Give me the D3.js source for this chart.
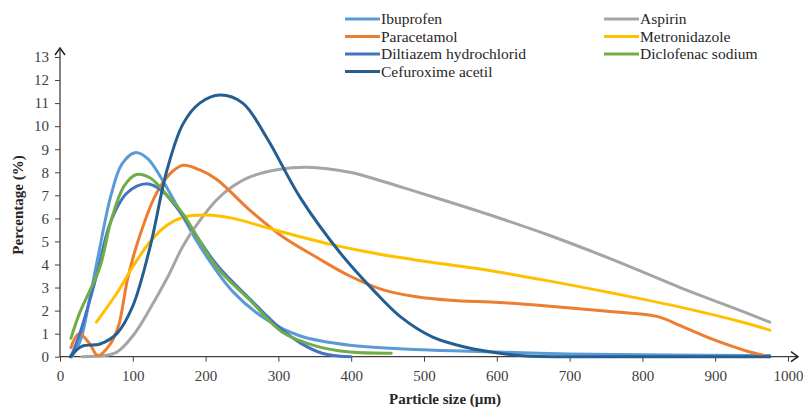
<!DOCTYPE html>
<html>
<head>
<meta charset="utf-8">
<script src="https://cdn.jsdelivr.net/npm/d3@7"></script>
<style>
	body { margin: 0; background: #fff; }
	svg { display: block; }
	svg text { font-family: "Liberation Serif", "DejaVu Serif", serif; }
	.tick-label { font-size: 15px; fill: #404040; }
	.title { font-size: 15px; font-weight: bold; fill: #262626; }
	.legend text { font-size: 15.5px; fill: #262626; }
	.series { fill: none; stroke-width: 3; stroke-linejoin: round; stroke-linecap: round; }
</style>
</head>
<body>
<div id="chart"></div>
<script>

// series names, legend order (row by row)
var seriesNames = ["Ibuprofen", "Aspirin", "Paracetamol", "Metronidazole",
	"Diltiazem hydrochlorid", "Diclofenac sodium", "Cefuroxime acetil"];

// [particle size (µm), percentage (%)]
var ibuprofen = [[16,0],[28,0.7],[40,2.4],[52,4.3],[70,7.0],[85,8.35],[103,8.85],[120,8.6],
	[140,7.7],[165,6.3],[192,4.8],[238,2.8],[284,1.6],[330,0.9],[398,0.5],[500,0.3],[604,0.2],[700,0.12],
	[800,0.08],[975,0.05]];
var aspirin = [[30,0],[60,0.05],[78,0.2],[100,0.9],[124,2.1],[147,3.4],[169,4.8],[192,5.9],[215,6.8],
	[238,7.4],[261,7.8],[300,8.12],[340,8.22],[398,8.0],[444,7.6],[490,7.15],[536,6.7],[600,6.05],
	[669,5.3],[760,4.2],[852,3.0],[943,1.9],[975,1.5]];
var paracetamol = [[15,0.4],[26,1.0],[40,0.6],[52,0.05],[68,0.5],[80,1.3],[93,3.4],[107,5.0],[131,7.0],
	[150,7.9],[169,8.3],[192,8.1],[215,7.7],[261,6.35],[306,5.2],[353,4.3],[398,3.5],[444,2.9],[490,2.6],
	[536,2.45],[604,2.35],[669,2.2],[760,1.95],[820,1.75],[852,1.35],[897,0.75],[943,0.25],[975,0]];
var metronidazole = [[50,1.5],[78,2.75],[100,3.9],[124,5.0],[147,5.7],[169,6.05],[202,6.15],[238,6.0],
	[284,5.6],[330,5.2],[375,4.85],[421,4.55],[467,4.3],[520,4.05],[577,3.8],[669,3.3],[760,2.75],
	[852,2.15],[943,1.45],[975,1.15]];
var diltiazem = [[15,0],[25,0.8],[35,1.8],[51,3.6],[69,5.8],[92,7.1],[119,7.5],[140,7.2],[169,6.1],
	[215,4.0],[261,2.5],[300,1.3],[330,0.6],[360,0.15],[385,0.02],[400,0]];
var diclofenac = [[15,0.8],[27,1.9],[40,2.8],[55,3.9],[71,6.0],[88,7.4],[105,7.9],[124,7.75],[150,6.9],
	[169,6.2],[215,3.9],[261,2.45],[306,1.05],[353,0.45],[398,0.2],[455,0.15]];
var cefuroxime = [[14,0],[30,0.45],[55,0.55],[78,1.0],[100,2.2],[124,4.8],[147,8.1],[169,10.1],[192,11.0],
	[220,11.35],[251,11.0],[284,9.5],[330,6.9],[385,4.5],[430,2.9],[467,1.75],[512,0.85],[559,0.4],
	[604,0.15],[640,0.03],[700,0],[975,0]];

var seriesValues = [ibuprofen, aspirin, paracetamol, metronidazole, diltiazem, diclofenac, cefuroxime];
var seriesColors = ["#5B9BD5", "#A5A5A5", "#ED7D31", "#FFC000", "#4472C4", "#70AD47", "#255E91"];

// axis ticks
var xTicks = [0, 100, 200, 300, 400, 500, 600, 700, 800, 900, 1000];
var yTicks = [0, 1, 2, 3, 4, 5, 6, 7, 8, 9, 10, 11, 12, 13];

var W = 803, H = 407;
var margin = {top: 57, right: 15, bottom: 50, left: 60};

var svg = d3.select("#chart").append("svg")
	.attr("width", W)
	.attr("height", H);

var x = d3.scaleLinear().domain([0, 1000]).range([margin.left, 788]);
var y = d3.scaleLinear().domain([0, 13]).range([356.7, margin.top]);

var axisColor = "#404040";

// y axis with arrow
svg.append("line")
	.attr("x1", x(0)).attr("x2", x(0))
	.attr("y1", y(0)).attr("y2", 48)
	.attr("stroke", axisColor).attr("stroke-width", 1.3);
svg.append("path")
	.attr("d", "M" + (x(0) - 5) + ",55 L" + x(0) + ",48 L" + (x(0) + 5) + ",55")
	.attr("fill", "none").attr("stroke", "#222").attr("stroke-width", 1.5);

var yAxis = svg.append("g")
	.attr("transform", "translate(" + x(0) + ",0)")
	.call(d3.axisLeft(y).tickValues(yTicks).tickFormat(d3.format("d")).tickSize(5).tickPadding(6))
	.attr("font-family", null).attr("font-size", null);
yAxis.select(".domain").remove();
yAxis.selectAll(".tick line").attr("stroke", axisColor);
yAxis.selectAll(".tick text").attr("class", "tick-label");

// x axis with arrow
svg.append("line")
	.attr("x1", x(0)).attr("x2", 798)
	.attr("y1", y(0)).attr("y2", y(0))
	.attr("stroke", axisColor).attr("stroke-width", 1.3);
svg.append("path")
	.attr("d", "M791," + (y(0) - 5) + " L798," + y(0) + " L791," + (y(0) + 5))
	.attr("fill", "none").attr("stroke", "#222").attr("stroke-width", 1.5);

var xAxis = svg.append("g")
	.attr("transform", "translate(0," + y(0) + ")")
	.call(d3.axisBottom(x).tickValues(xTicks).tickFormat(d3.format("d")).tickSize(5).tickPadding(9))
	.attr("font-family", null).attr("font-size", null);
xAxis.select(".domain").remove();
xAxis.selectAll(".tick line").attr("stroke", axisColor);
xAxis.selectAll(".tick text").attr("class", "tick-label");

// axis titles
svg.append("text")
	.attr("class", "title")
	.attr("text-anchor", "middle")
	.attr("x", 445).attr("y", 404)
	.text("Particle size (µm)");

svg.append("text")
	.attr("class", "title")
	.attr("text-anchor", "middle")
	.attr("transform", "translate(23,205)rotate(-90)")
	.text("Percentage (%)");

// series lines, smoothed like the original
var line = d3.line()
	.x(function(d) { return x(d[0]); })
	.y(function(d) { return y(d[1]); })
	.curve(d3.curveCatmullRom.alpha(0.5));

svg.selectAll("path.series")
	.data(seriesValues)
	.enter()
	.append("path")
	.attr("class", "series")
	.attr("stroke", function(d, i) { return seriesColors[i]; })
	.attr("d", line);

// legend, two columns
var legendCols = [345, 604];
var legendRows = [19, 36.5, 54, 71.5];
var legend = svg.append("g").attr("class", "legend");

seriesNames.forEach(function(name, i) {
	var lx = legendCols[i % 2],
		ly = legendRows[Math.floor(i / 2)];
	legend.append("line")
		.attr("x1", lx).attr("x2", lx + 35)
		.attr("y1", ly).attr("y2", ly)
		.attr("stroke", seriesColors[i]).attr("stroke-width", 3);
	legend.append("text")
		.attr("x", lx + 36).attr("y", ly + 5)
		.text(name);
});

</script>
</body>
</html>
